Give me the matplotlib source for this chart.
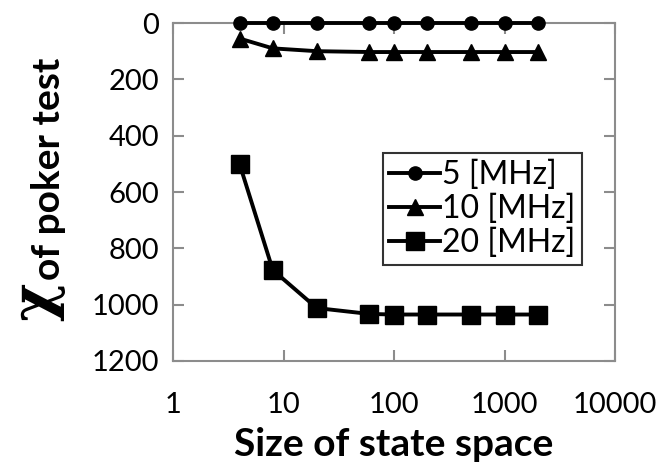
import matplotlib
matplotlib.use("Agg")
import matplotlib.pyplot as plt
from matplotlib.ticker import FixedLocator, FixedFormatter, NullLocator

plt.rcParams['font.family'] = ['Lato', 'DejaVu Sans']

sizes = [4, 8, 20, 60, 100, 200, 500, 1000, 2000]
chi_5mhz = [0, 0, 0, 0, 0, 0, 0, 0, 0]
chi_10mhz = [55, 90, 100, 103, 103, 103, 103, 103, 103]
chi_20mhz = [500, 877, 1012, 1033, 1035, 1035, 1035, 1035, 1035]
labels = ["5 [MHz]", "10 [MHz]", "20 [MHz]"]
x_ticks = [1, 10, 100, 1000, 10000]
x_ticklabels = ["1", "10", "100", "1000", "10000"]
y_ticks = [0, 200, 400, 600, 800, 1000, 1200]

fig = plt.figure(figsize=(6.69, 4.67), dpi=100)
ax = fig.add_axes([0.2586, 0.227, 0.6607, 0.7237])

ax.plot(sizes, chi_5mhz, color='black', lw=2.8, marker='o', ms=9.5, label=labels[0], clip_on=False, zorder=5)
ax.plot(sizes, chi_10mhz, color='black', lw=2.8, marker='^', ms=12, label=labels[1], clip_on=False, zorder=4)
ax.plot(sizes, chi_20mhz, color='black', lw=2.8, marker='s', ms=13, label=labels[2], clip_on=False, zorder=4)

ax.set_xscale('log')
ax.set_xlim(1, 10000)
ax.set_ylim(1200, 0)
ax.xaxis.set_major_locator(FixedLocator(x_ticks))
ax.xaxis.set_major_formatter(FixedFormatter(x_ticklabels))
ax.xaxis.set_minor_locator(NullLocator())
ax.set_yticks(y_ticks)

gray = '#8c8c8c'
for s in ax.spines.values():
    s.set_color(gray)
    s.set_linewidth(1.5)
ax.tick_params(axis='both', which='major', direction='in', length=8, width=1.5, color=gray,
               labelsize=21, top=True, right=True, labelcolor='black')
ax.tick_params(axis='x', pad=22)
ax.tick_params(axis='y', pad=10)

ax.set_xlabel("Size of state space", fontsize=28, fontweight='bold', labelpad=7)

# y label: large chi symbol followed by bold text
ybase = 1 - 280 / 467
fig.text(0.072, ybase, "of poker test", rotation=90, fontsize=28, fontweight='bold',
         ha='center', va='bottom')
fig.text(0.056, ybase - 0.005, "χ", rotation=90, fontsize=42, fontweight='bold',
         ha='center', va='top', family=['DejaVu Serif', 'DejaVu Sans'])

leg = ax.legend(loc='upper left', bbox_to_anchor=(0.475, 0.614), fontsize=23, frameon=True,
                fancybox=False, edgecolor='black', handlelength=1.6, handletextpad=0.05,
                borderpad=0.2, labelspacing=0.12, borderaxespad=0)
leg.get_frame().set_linewidth(1.5)

fig.savefig("out.png", dpi=100)
